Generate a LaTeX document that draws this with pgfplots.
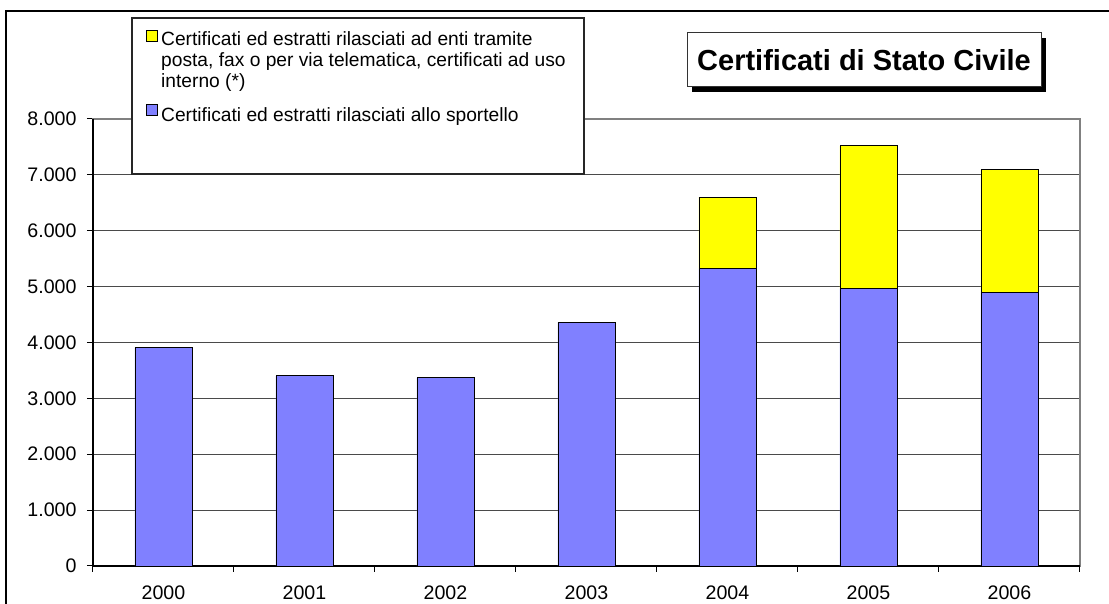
\documentclass[border=0pt]{standalone}
\usepackage{fontspec}
\setmainfont{Liberation Sans}
\usepackage{pgfplots}
\pgfplotsset{compat=1.18}

\definecolor{barblue}{HTML}{8080FF}
\definecolor{baryellow}{HTML}{FFFF00}
\definecolor{gridgray}{HTML}{4A4A4A}

% legend square raised to the first of three text lines
\pgfplotsset{tallsquare/.style={
    legend image code/.code={
        \draw[##1, draw=black, line width=0.4pt] (0pt,9.5pt) rectangle (5.5pt,15pt);
    }}}

\begin{document}
\begin{tikzpicture}
% page = 1109 x 604 px, 1 px = 0.5pt, origin at the lower left of the plot area
\path[use as bounding box] (-46.5pt,-19pt) rectangle (508pt,283pt);
\draw[black, line width=0.6pt] (-43.5pt,-19pt) -- (-43.5pt,277.5pt) -- (508pt,277.5pt);

\begin{axis}[
    at={(0pt,0pt)}, anchor=south west,
    scale only axis, width=493.5pt, height=223.5pt,
    ybar stacked, bar width=28.5pt,
    xmin=-0.5, xmax=6.5, ymin=0, ymax=8000,
    enlargelimits=false, clip=false,
    xtick={0,...,6},
    xticklabels={2000,2001,2002,2003,2004,2005,2006},
    minor xtick={-0.5,0.5,...,6.5},
    ytick={0,1000,...,8000},
    tick pos=left, tick align=outside,
    major tick length=3pt, minor tick length=3pt,
    major x tick style={draw=none},
    minor x tick style={draw=black, line width=0.5pt},
    major y tick style={draw=black, line width=0.5pt},
    ymajorgrids,
    major grid style={gridgray, line width=0.5pt},
    axis line style={draw=gray, line width=0.7pt},
    tick label style={font=\fontsize{9.8}{11}\selectfont},
    yticklabel style={xshift=-1.7pt},
    xticklabel style={yshift=-3.5pt},
    /pgf/number format/.cd, 1000 sep={.}, assume math mode=true,
    /pgfplots/.cd,
    reverse legend,
    legend cell align=left,
    legend style={
        draw=none, fill=none,
        at={(rel axis cs:0.0476,1.212)}, anchor=north west,
        font=\fontsize{9.6}{10.5}\selectfont,
        row sep=6pt, column sep=0pt,
        nodes={inner xsep=1.5pt, inner ysep=1pt},
    },
    legend image code/.code={
        \draw[#1, draw=black, line width=0.4pt] (0pt,0pt) rectangle (5.5pt,5.5pt);
    },
]
% legend frame, above the grid and below the legend
\draw[fill=white, draw=black!85, line width=0.6pt]
    (rel axis cs:0.03951,1.22595) rectangle (rel axis cs:0.49747,0.87696);

\addplot[fill=barblue, draw=black, line width=0.4pt] coordinates {
    (0,3910) (1,3404) (2,3368) (3,4361) (4,5320) (5,4965) (6,4895)
};
\addlegendentry{Certificati ed estratti rilasciati allo sportello}

\addplot[fill=baryellow, draw=black, line width=0.4pt, tallsquare] coordinates {
    (0,0) (1,0) (2,0) (3,0) (4,1280) (5,2555) (6,2200)
};
\addlegendentry{\begin{tabular}[b]{@{}l@{}}Certificati ed estratti rilasciati ad enti tramite\\posta, fax o per via telematica, certificati ad uso\\interno (*)\end{tabular}}

% black axis lines on the left and at the bottom
\draw[black, line width=0.6pt] (rel axis cs:0,1) -- (rel axis cs:0,0) -- (rel axis cs:1,0);
\end{axis}

% title box with its shadow
\fill[black] (299.5pt,237pt) rectangle (476.5pt,264pt);
\draw[fill=white, draw=black!80, line width=0.5pt] (297pt,239.5pt) rectangle (474pt,266.5pt);
\node[font=\bfseries\fontsize{14.5}{16}\selectfont] at (385.5pt,253pt) {Certificati di Stato Civile};
\end{tikzpicture}
\end{document}
